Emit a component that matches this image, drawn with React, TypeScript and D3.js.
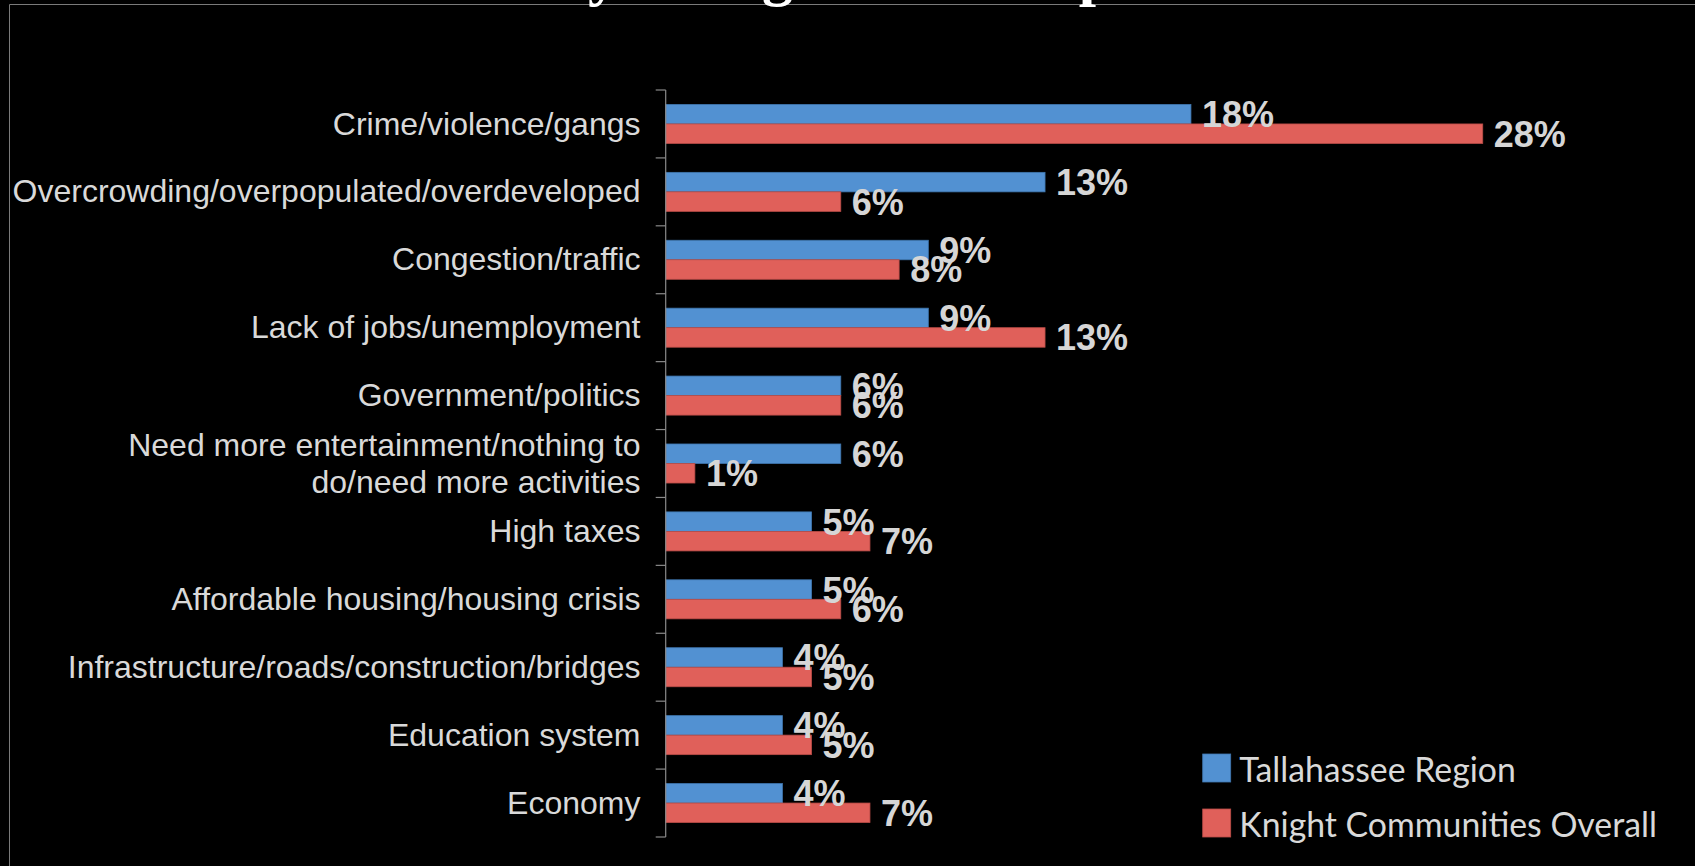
import React, { useEffect } from "react";
import * as d3 from "d3";

const categories = [
  "Crime/violence/gangs",
  "Overcrowding/overpopulated/overdeveloped",
  "Congestion/traffic",
  "Lack of jobs/unemployment",
  "Government/politics",
  "Need more entertainment/nothing to\ndo/need more activities",
  "High taxes",
  "Affordable housing/housing crisis",
  "Infrastructure/roads/construction/bridges",
  "Education system",
  "Economy",
];
const tallahassee = [18, 13, 9, 9, 6, 6, 5, 5, 4, 4, 4];
const knight = [28, 6, 8, 13, 6, 1, 7, 6, 5, 5, 7];
const seriesNames = ["Tallahassee Region", "Knight Communities Overall"];
const seriesColors = ["#5291D2", "#E0605A"];
const seriesStroke = ["#3F76AE", "#B94C47"];
const titleText = "Community's Single Most Important Problem";

const W = 1695;
const H = 866;
const axisX = 665.7;
const pxPerPct = 29.18;
const top = 90;
const bottom = 837;

export default function App() {
  useEffect(() => {
    document.body.style.margin = "0";
    document.body.style.background = "#000";
    document.body.style.overflow = "hidden";
  }, []);

  const x = d3.scaleLinear().domain([0, 30]).range([axisX, axisX + 30 * pxPerPct]);
  const y = d3.scaleBand<string>().domain(categories).range([top, bottom]);
  const sub = d3
    .scaleBand<string>()
    .domain(["t", "k"])
    .range([0, y.bandwidth()])
    .paddingInner(0)
    .paddingOuter(0.74);

  const series = [tallahassee, knight];
  const keys = ["t", "k"];
  const tickYs = [...categories.map((c) => y(c) as number), bottom];

  return (
    <svg
      width={W}
      height={H}
      style={{ position: "absolute", left: 0, top: 0, display: "block" }}
    >
      <rect x={0} y={0} width={W} height={H} fill="#000" />
      {/* frame */}
      <path d={`M9.5,${H + 5} V4.5 H${W + 5}`} fill="none" stroke="#7a7a7a" strokeWidth={1} />
      {/* title (mostly cut off) */}
      <text
        x={302}
        y={-6}
        fill="#ffffff"
        fontFamily="'Liberation Serif', 'DejaVu Serif', serif"
        fontWeight="bold"
        fontSize={62}
      >
        {titleText}
      </text>

      {/* bars */}
      {categories.map((c, i) => (
        <g key={c} transform={`translate(0,${y(c)})`}>
          {series.map((s, j) => (
            <rect
              key={j}
              x={x(0)}
              y={sub(keys[j]) as number}
              width={x(s[i]) - x(0)}
              height={sub.bandwidth()}
              fill={seriesColors[j]}
              stroke={seriesStroke[j]}
              strokeWidth={0.8}
            />
          ))}
        </g>
      ))}

      {/* value labels drawn above all bars */}
      {categories.map((c, i) => (
        <g key={c} transform={`translate(0,${y(c)})`}>
          {series.map((s, j) => (
            <text
              key={j}
              x={x(s[i]) + 11}
              y={(sub(keys[j]) as number) + sub.bandwidth() / 2}
              dy="0.36em"
              fill="#d6d6d6"
              fontFamily="'Liberation Sans', Arial, sans-serif"
              fontWeight="bold"
              fontSize={36}
            >
              {s[i] + "%"}
            </text>
          ))}
        </g>
      ))}

      {/* axis */}
      <line x1={axisX} x2={axisX} y1={top} y2={bottom} stroke="#8a8a8a" strokeWidth={1.2} />
      {tickYs.map((ty, i) => (
        <line key={i} x1={axisX - 10} x2={axisX} y1={ty} y2={ty} stroke="#8a8a8a" strokeWidth={1.2} />
      ))}
      {categories.map((c) => {
        const lines = c.split("\n");
        const cy = (y(c) as number) + y.bandwidth() / 2;
        const lh = 37;
        return (
          <text
            key={c}
            textAnchor="end"
            fill="#d9d9d9"
            fontFamily="'Liberation Sans', Arial, sans-serif"
            fontSize={32}
          >
            {lines.map((ln, k) => (
              <tspan
                key={k}
                x={640.5}
                y={cy + (k - (lines.length - 1) / 2) * lh}
                dy="0.33em"
              >
                {ln}
              </tspan>
            ))}
          </text>
        );
      })}

      {/* legend */}
      {seriesNames.map((n, j) => (
        <g key={n} transform={`translate(1202.7,${754 + j * 55})`}>
          <rect x={0} y={0} width={28} height={28} fill={seriesColors[j]} stroke={seriesStroke[j]} strokeWidth={0.8} />
          <text
            x={36.6}
            y={27.7}
            fill="#d9d9d9"
            fontFamily="Lato, 'Open Sans', sans-serif"
            fontSize={33.8}
          >
            {n}
          </text>
        </g>
      ))}
    </svg>
  );
}
